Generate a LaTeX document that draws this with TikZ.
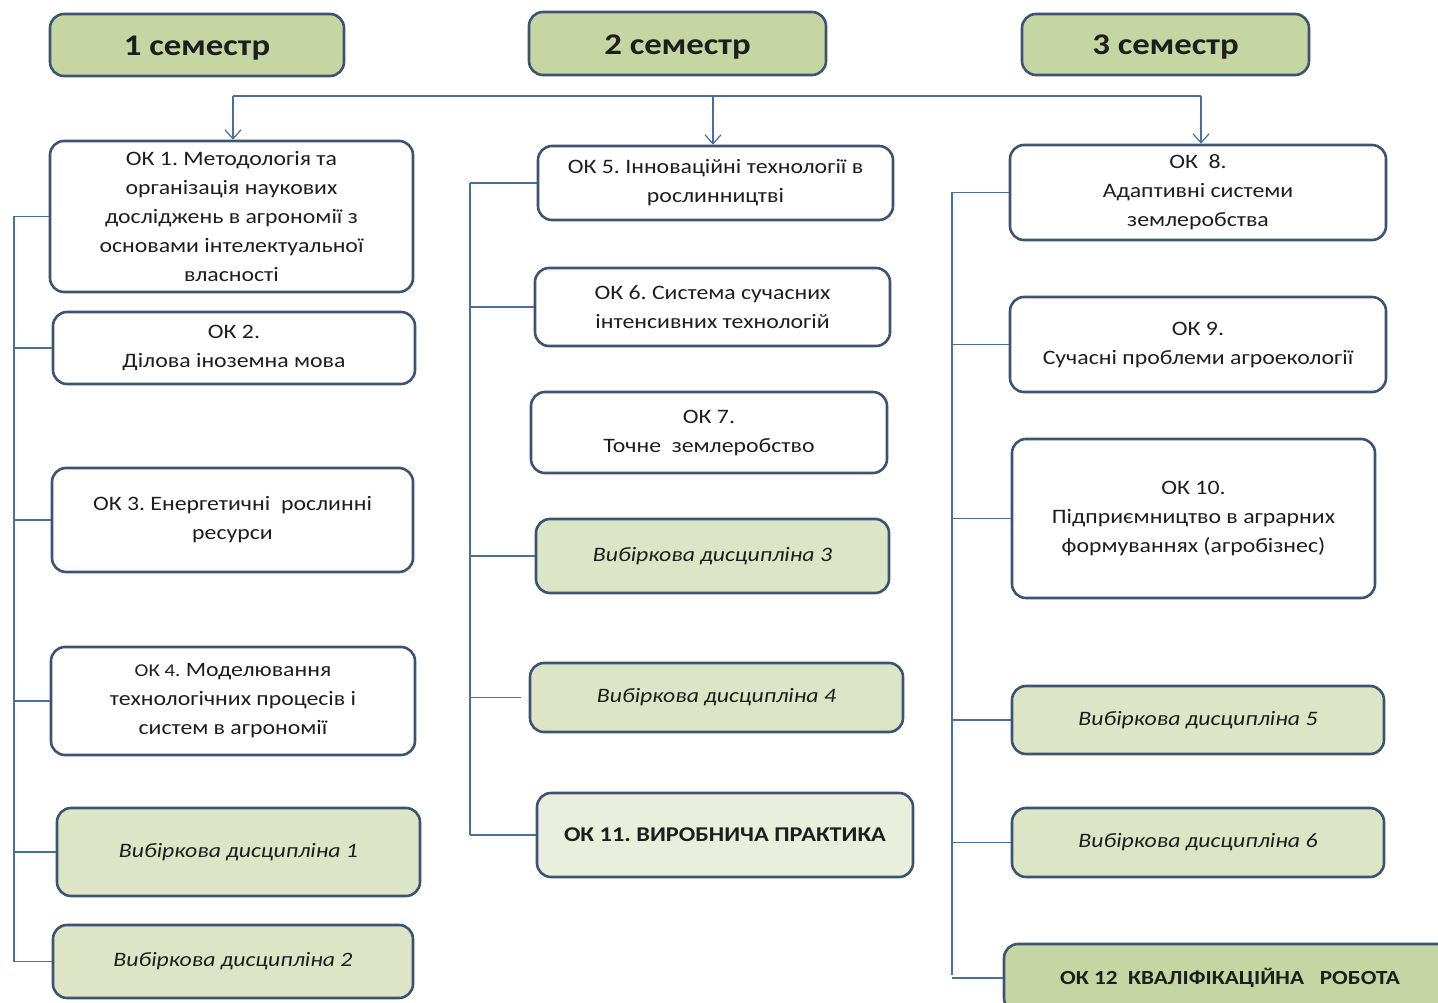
\documentclass[tikz,border=0pt]{standalone}
\usepackage{fontspec}
\setmainfont{Carlito}[FakeStretch=1.16]
\frenchspacing
\usetikzlibrary{arrows.meta}
\definecolor{bordc}{HTML}{3D5372}
\definecolor{connc}{HTML}{4A6F9E}
\definecolor{headfill}{HTML}{C6D6A2}
\definecolor{electfill}{HTML}{DCE5C6}
\definecolor{practfill}{HTML}{E9EEDD}
\definecolor{txtc}{HTML}{1E1E1E}
\tikzset{
  base/.style={draw=bordc, line width=2.6pt, rounded corners=14pt, inner sep=0pt, align=center, text=txtc},
  head/.style={base, fill=headfill, font=\fontsize{30}{34}\selectfont\bfseries},
  okbox/.style={base, fill=white, font=\fontsize{20.5}{29}\selectfont},
  elect/.style={base, fill=electfill, font=\fontsize{20.5}{29}\selectfont\itshape},
  pract/.style={base, fill=practfill, font=\fontsize{21}{29}\selectfont\bfseries},
  qual/.style={base, fill=headfill, font=\fontsize{20}{29}\selectfont\bfseries},
  conn/.style={draw=connc, line width=1.2pt},
  arr/.style={conn, -{Straight Barb[length=9pt,width=16pt,line width=1.2pt]}}
}
\newcommand{\bx}[7]{% name, style, x1, y1, x2, y2, text
  \node[#2, minimum width={#5-#3}, minimum height={#6-#4}] (#1) at ({(#3+#5)/2},{(#4+#6)/2}) {#7};}
\begin{document}
\begin{tikzpicture}[x=1pt,y=-1pt]
\clip (0,0) rectangle (1438,1003);
\fill[white] (0,0) rectangle (1438,1003);
% headers
\bx{h1}{head}{50}{14}{344}{76}{\raisebox{-10.5pt}[0pt][0pt]{1 семестр}}
\bx{h2}{head}{529}{12}{826}{75}{\raisebox{-11pt}[0pt][0pt]{2 семестр}}
\bx{h3}{head}{1022}{14}{1309}{75}{\raisebox{-10pt}[0pt][0pt]{3 семестр}}
% column 1
\bx{ok1}{okbox}{50}{141}{413}{292}{ОК 1. Методологія та\\організація наукових\\досліджень в агрономії з\\основами інтелектуальної\\власності}
\bx{ok2}{okbox}{53}{312}{415}{384}{ОК 2.\\Ділова іноземна мова}
\bx{ok3}{okbox}{52}{468}{413}{572}{ОК 3. Енергетичні\ \ рослинні\\ресурси}
\bx{ok4}{okbox}{51}{647}{415}{755}{{\fontsize{18}{29}\selectfont ОК 4.} Моделювання\\технологічних процесів і\\систем в агрономії}
\bx{v1}{elect}{57}{808}{420}{896}{Вибіркова дисципліна 1}
\bx{v2}{elect}{53}{925}{413}{998}{Вибіркова дисципліна 2}
% column 2
\bx{ok5}{okbox}{538}{146}{893}{220}{ОК 5. Інноваційні технології в\\рослинництві}
\bx{ok6}{okbox}{535}{268}{890}{346}{ОК 6. Система сучасних\\інтенсивних технологій}
\bx{ok7}{okbox}{531}{392}{887}{473}{ОК 7.\\Точне\ \ землеробство}
\bx{v3}{elect}{536}{519}{889}{593}{Вибіркова дисципліна 3}
\bx{v4}{elect}{530}{663}{903}{732}{Вибіркова дисципліна 4}
\bx{ok11}{pract}{537}{793}{913}{877}{ОК 11. ВИРОБНИЧА ПРАКТИКА}
% column 3
\bx{ok8}{okbox}{1010}{145}{1386}{240}{ОК\ \ 8.\\Адаптивні системи\\землеробства}
\bx{ok9}{okbox}{1010}{297}{1386}{392}{ОК 9.\\Сучасні проблеми агроекології}
\bx{ok10}{okbox}{1012}{439}{1375}{598}{ОК 10.\\Підприємництво в аграрних\\формуваннях (агробізнес)}
\bx{v5}{elect}{1012}{686}{1384}{754}{Вибіркова дисципліна 5}
\bx{v6}{elect}{1012}{808}{1384}{877}{Вибіркова дисципліна 6}
\bx{ok12}{qual}{1004}{944}{1456}{1012}{ОК 12\ \ КВАЛІФІКАЦІЙНА\ \ \ РОБОТА}
% top distribution line
\coordinate (t1) at (233,96);
\coordinate (t2) at (713,96);
\coordinate (t3) at (1201,96);
\draw[conn] (t1) -- (t3);
\draw[arr] (t1) -- (t1 |- ok1.north);
\draw[arr] (t2) -- (t2 |- ok5.north);
\draw[arr] (t3) -- (t3 |- ok8.north);
% column 1 spine
\coordinate (s1) at (14,0);
\draw[conn] (ok1.west -| s1) -- (v2.west -| s1);
\foreach \n in {ok1,ok2,ok3,ok4,v1,v2} \draw[conn] (\n.west) -- (\n.west -| s1);
% column 2 spine
\coordinate (s2) at (470,0);
\draw[conn] (ok5.west -| s2) -- (ok11.west -| s2);
\foreach \n in {ok5,ok6,v3,ok11} \draw[conn] (\n.west) -- (\n.west -| s2);
\draw[conn] ([xshift=-8pt]v4.west) -- (v4.west -| s2);
% column 3 spine
\coordinate (s3) at (952,0);
\draw[conn] (ok8.west -| s3) -- (s3 |- 0,975);
\foreach \n in {ok8,ok9,ok10,v5,v6} \draw[conn] (\n.west) -- (\n.west -| s3);
\draw[conn] (ok12.west) -- (ok12.west -| s3);
\end{tikzpicture}
\end{document}
